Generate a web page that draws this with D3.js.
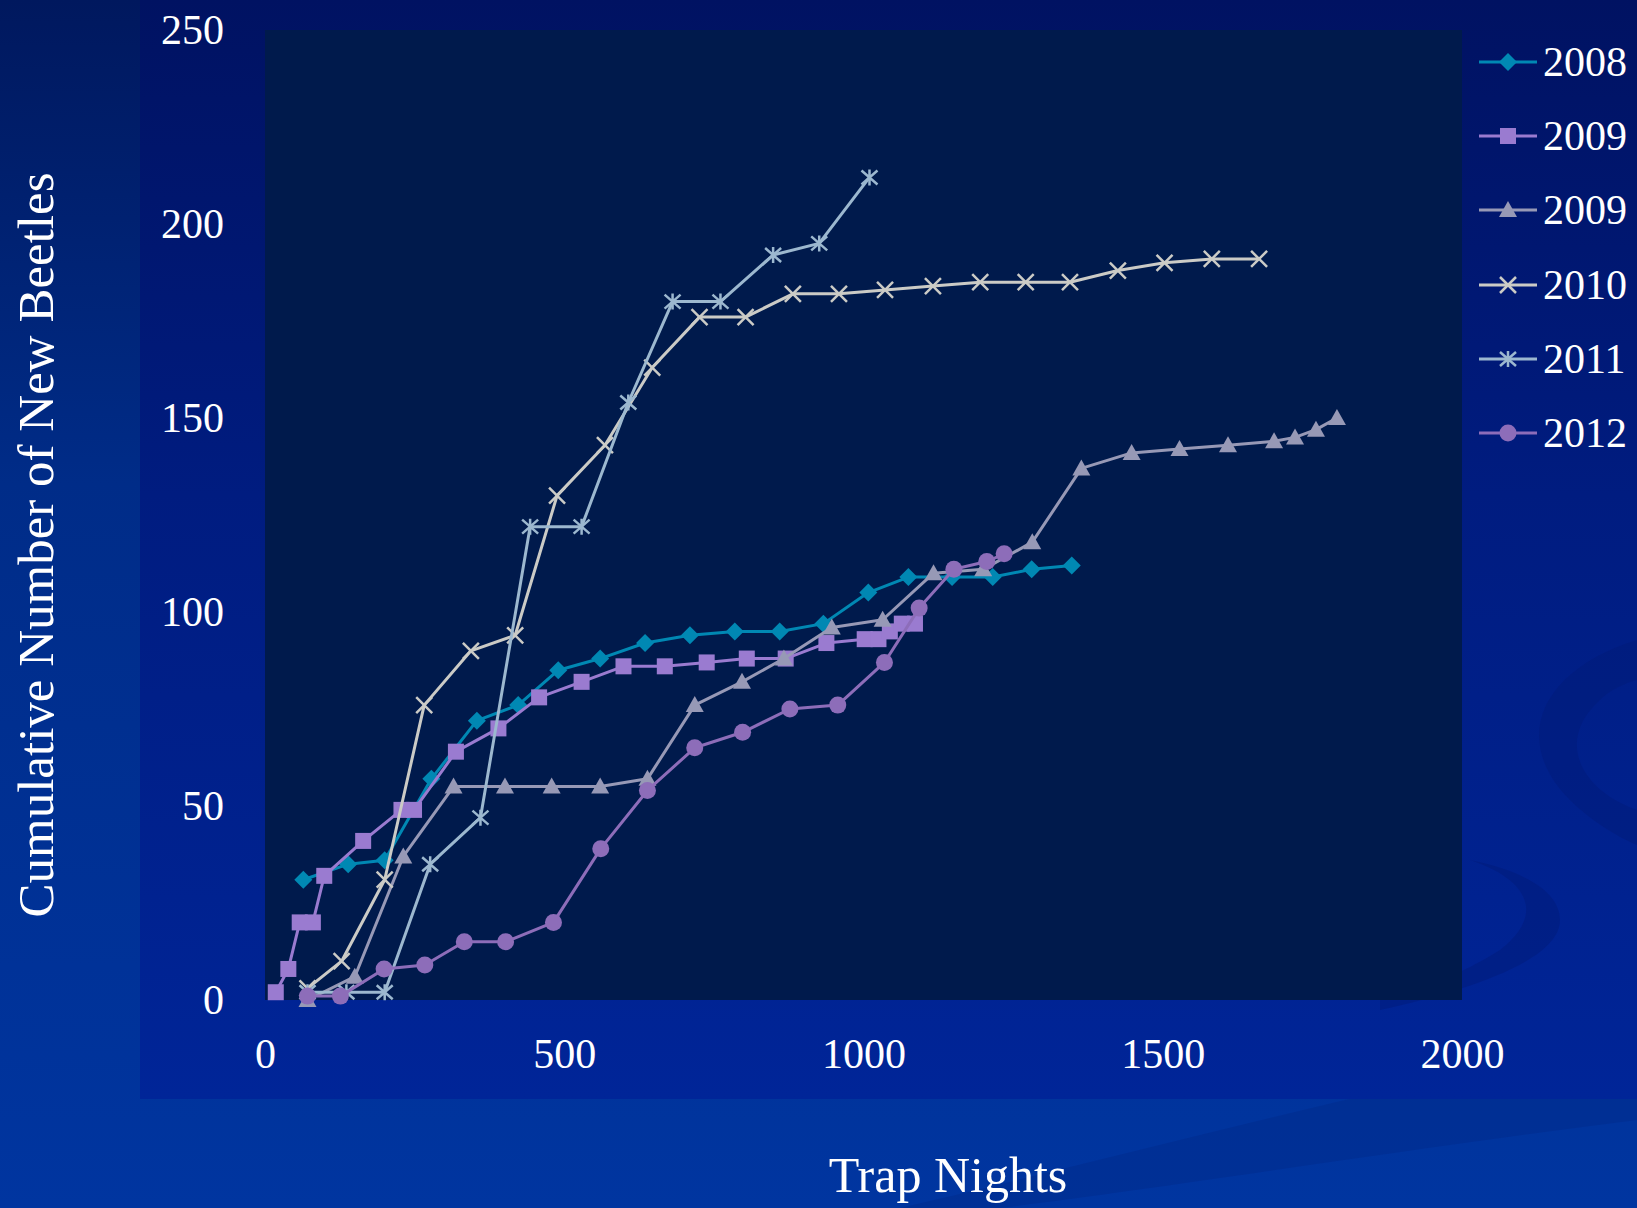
<!DOCTYPE html>
<html>
<head>
<meta charset="utf-8">
<script src="https://cdn.jsdelivr.net/npm/d3@7"></script>
<style>
  html, body { margin: 0; padding: 0; background: #00207f; }
  svg { display: block; }
</style>
</head>
<body>
<svg id="chart" width="1637" height="1208"></svg>
<script>
// ---------- data ----------
const seriesNames = ["2008", "2009", "2009", "2010", "2011", "2012"];

const x2008 = [64, 139, 200, 278, 354, 423, 490, 560, 635, 710, 785, 860, 933, 1008, 1075, 1148, 1216, 1281, 1348];
const y2008 = [31, 35, 36, 57, 72, 76, 85, 88, 92, 94, 95, 95, 97, 105, 109, 109, 109, 111, 112];

const x2009a = [18, 39, 58, 80, 99, 164, 228, 249, 319, 390, 458, 529, 599, 668, 738, 805, 870, 938, 1002, 1025, 1044, 1064, 1086];
const y2009a = [2, 8, 20, 20, 32, 41, 49, 49, 64, 70, 78, 82, 86, 86, 87, 88, 88, 92, 93, 93, 95, 97, 97];

const x2009b = [71, 150, 231, 315, 401, 479, 560, 639, 718, 797, 867, 947, 1032, 1117, 1200, 1282, 1364, 1448, 1528, 1609, 1686, 1721, 1756, 1791];
const y2009b = [0, 6, 37, 55, 55, 55, 55, 57, 76, 82, 88, 96, 98, 110, 111, 118, 137, 141, 142, 143, 144, 145, 147, 150];

const x2010 = [71, 128, 200, 266, 344, 418, 488, 568, 647, 726, 803, 882, 959, 1036, 1116, 1195, 1271, 1345, 1425, 1503, 1582, 1661];
const y2010 = [3, 10, 31, 76, 90, 94, 130, 143, 163, 176, 176, 182, 182, 183, 184, 185, 185, 185, 188, 190, 191, 191];

const x2011 = [71, 136, 200, 276, 360, 443, 529, 607, 681, 761, 849, 926, 1010];
const y2011 = [2, 2, 2, 35, 47, 122, 122, 154, 180, 180, 192, 195, 212];

const x2012 = [71, 126, 199, 267, 333, 402, 482, 561, 639, 718, 798, 877, 957, 1035, 1093, 1151, 1206, 1235];
const y2012 = [1, 1, 8, 9, 15, 15, 20, 39, 54, 65, 69, 75, 76, 87, 101, 111, 113, 115];

const xTicks = [0, 500, 1000, 1500, 2000];
const yTicks = [0, 50, 100, 150, 200, 250];

const xTitle = "Trap Nights";
const yTitle = "Cumulative Number of New Beetles";

// ---------- styling ----------
const colors = ["#0088b3", "#9a7bd0", "#9799b6", "#cbcbc6", "#9cb8cf", "#8d6db9"];
const markers = ["diamond", "square", "triangle", "x", "asterisk", "circle"];
const xs = [x2008, x2009a, x2009b, x2010, x2011, x2012];
const ys = [y2008, y2009a, y2009b, y2010, y2011, y2012];
const series = seriesNames.map((n, i) => ({
  name: n, color: colors[i], marker: markers[i],
  points: xs[i].map((v, j) => ({ x: v, y: ys[i][j] }))
}));

const FONT = "'Liberation Serif', 'Times New Roman', serif";
const svg = d3.select("#chart");
const defs = svg.append("defs");

const pageGrad = defs.append("linearGradient").attr("id", "pageGrad")
  .attr("x1", 0).attr("y1", 0).attr("x2", 0).attr("y2", 1);
pageGrad.append("stop").attr("offset", "0%").attr("stop-color", "#00185e");
pageGrad.append("stop").attr("offset", "40%").attr("stop-color", "#002c88");
pageGrad.append("stop").attr("offset", "100%").attr("stop-color", "#0035a0");

const panelGrad = defs.append("linearGradient").attr("id", "panelGrad")
  .attr("x1", 0).attr("y1", 0).attr("x2", 0).attr("y2", 1);
panelGrad.append("stop").attr("offset", "0%").attr("stop-color", "#001262");
panelGrad.append("stop").attr("offset", "45%").attr("stop-color", "#001c80");
panelGrad.append("stop").attr("offset", "100%").attr("stop-color", "#002598");

// page background
svg.append("rect").attr("width", 1637).attr("height", 1208).attr("fill", "url(#pageGrad)");

// subtle background swooshes
svg.append("path")
  .attr("d", "M 900 1208 C 1150 1150 1400 1080 1637 1040 L 1637 1120 C 1400 1150 1150 1190 1000 1208 Z")
  .attr("fill", "#002a8a").attr("opacity", 0.45);

// chart panel
svg.append("rect").attr("x", 140).attr("y", 0).attr("width", 1497).attr("height", 1099)
  .attr("fill", "url(#panelGrad)");

svg.append("path")
  .attr("d", "M 1637 640 C 1540 670 1510 740 1570 800 C 1600 830 1637 845 1637 845 L 1637 810 C 1580 790 1555 740 1600 700 C 1615 685 1637 680 1637 680 Z")
  .attr("fill", "#001a78").attr("opacity", 0.45);
svg.append("path")
  .attr("d", "M 1380 1010 C 1470 990 1560 960 1560 920 C 1560 890 1520 870 1470 860 C 1530 880 1545 915 1500 950 C 1460 975 1420 990 1380 1000 Z")
  .attr("fill", "#001a78").attr("opacity", 0.45);

// scales
const x = d3.scaleLinear().domain([0, 2000]).range([265, 1462]);
const y = d3.scaleLinear().domain([0, 250]).range([1000, 30]);

// plot area
svg.append("rect")
  .attr("x", x(0)).attr("y", y(250))
  .attr("width", x(2000) - x(0)).attr("height", y(0) - y(250))
  .attr("fill", "#001a4c");

// axes (labels only)
const yAxis = svg.append("g").attr("transform", `translate(${x(0)},0)`)
  .call(d3.axisLeft(y).tickValues(yTicks).tickFormat(d3.format("d")).tickSize(0).tickPadding(41));
const xAxis = svg.append("g").attr("transform", `translate(0,${y(0)})`)
  .call(d3.axisBottom(x).tickValues(xTicks).tickFormat(d3.format("d")).tickSize(0).tickPadding(38));
[yAxis, xAxis].forEach(g => {
  g.select(".domain").remove();
  g.selectAll("text").attr("fill", "#ffffff")
    .style("font-family", FONT).style("font-size", "42px");
});

// titles
svg.append("text").attr("x", 948).attr("y", 1192).attr("text-anchor", "middle")
  .attr("fill", "#ffffff").style("font-family", FONT).style("font-size", "50px")
  .text(xTitle);
svg.append("text").attr("transform", "translate(53,545) rotate(-90)").attr("text-anchor", "middle")
  .attr("fill", "#ffffff").style("font-family", FONT).style("font-size", "51px")
  .text(yTitle);

// marker drawing
function drawMarker(g, type, color) {
  const s = 8;
  if (type === "diamond") {
    g.append("path").attr("d", `M0,${-s - 1}L${s + 1},0L0,${s + 1}L${-s - 1},0Z`).attr("fill", color);
  } else if (type === "square") {
    g.append("rect").attr("x", -s).attr("y", -s).attr("width", 2 * s).attr("height", 2 * s).attr("fill", color);
  } else if (type === "triangle") {
    g.append("path").attr("d", `M0,${-s - 1}L${s + 1},${s - 1}L${-s - 1},${s - 1}Z`).attr("fill", color);
  } else if (type === "circle") {
    g.append("circle").attr("r", s + 0.5).attr("fill", color);
  } else if (type === "x") {
    g.append("path").attr("d", `M${-s},${-s}L${s},${s}M${-s},${s}L${s},${-s}`)
      .attr("stroke", color).attr("stroke-width", 2.5).attr("fill", "none");
  } else if (type === "asterisk") {
    g.append("path").attr("d", `M${-s},${-s + 1}L${s},${s - 1}M${-s},${s - 1}L${s},${-s + 1}M0,${-s}L0,${s}`)
      .attr("stroke", color).attr("stroke-width", 2.5).attr("fill", "none");
  }
}

const line = d3.line().x(d => x(d.x)).y(d => y(d.y));

series.forEach(s => {
  const g = svg.append("g").attr("class", "series");
  g.append("path").datum(s.points).attr("d", line)
    .attr("fill", "none").attr("stroke", s.color).attr("stroke-width", 3)
    .attr("stroke-linejoin", "round");
  g.selectAll("g.pt").data(s.points).enter().append("g").attr("class", "pt")
    .attr("transform", d => `translate(${x(d.x)},${y(d.y)})`)
    .each(function () { drawMarker(d3.select(this), s.marker, s.color); });
});

// legend
const legendY = [62, 136, 210, 285, 359, 433];
const legend = svg.append("g");
series.forEach((s, i) => {
  const g = legend.append("g").attr("transform", `translate(0,${legendY[i]})`);
  g.append("line").attr("x1", 1479).attr("x2", 1537).attr("y1", 0).attr("y2", 0)
    .attr("stroke", s.color).attr("stroke-width", 3);
  const m = g.append("g").attr("transform", "translate(1508,0)");
  drawMarker(m, s.marker, s.color);
  g.append("text").attr("x", 1543).attr("y", 0).attr("dy", "0.34em")
    .attr("fill", "#ffffff").style("font-family", FONT).style("font-size", "42px")
    .text(s.name);
});
</script>
</body>
</html>
